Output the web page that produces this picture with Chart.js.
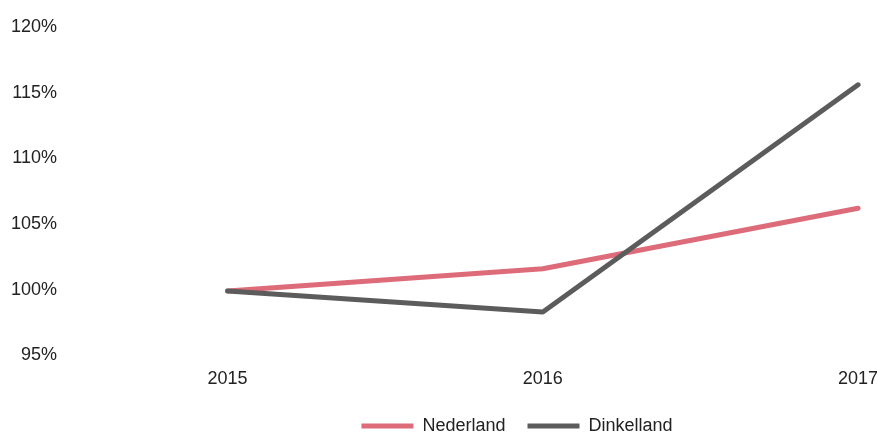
<!DOCTYPE html>
<html>
<head>
<meta charset="utf-8">
<script src="https://cdn.jsdelivr.net/npm/chart.js@4/dist/chart.umd.min.js"></script>
<style>
  html, body { margin: 0; padding: 0; background: #ffffff; }
  #wrap { width: 877px; height: 434px; position: relative; }
</style>
</head>
<body>
<div id="wrap"><canvas id="c"></canvas></div>
<script>
const years = [2015, 2016, 2017];
const nederland = [99.9, 101.6, 106.2];
const dinkelland = [99.9, 98.3, 115.6];
const yTicks = [95, 100, 105, 110, 115, 120];
const seriesNames = ['Nederland', 'Dinkelland'];

const FONT = "'Liberation Sans', Arial, sans-serif";
const pink = '#dd6b79';
const grey = '#5c5c5c';

Chart.defaults.font.family = FONT;
Chart.defaults.font.size = 18;
Chart.defaults.color = '#222222';

const legendShift = {
  id: 'legendShift',
  afterLayout(chart) {
    const l = chart.legend;
    if (l) { l.left += 75; l.right += 75; }
  }
};

new Chart(document.getElementById('c'), {
  type: 'line',
  plugins: [legendShift],
  data: {
    datasets: [
      {
        label: seriesNames[0],
        data: years.map((x, i) => ({ x, y: nederland[i] })),
        borderColor: pink,
        backgroundColor: pink,
        borderWidth: 5,
        borderCapStyle: 'round',
        borderJoinStyle: 'round',
        pointRadius: 0,
        tension: 0,
        order: 1
      },
      {
        label: seriesNames[1],
        data: years.map((x, i) => ({ x, y: dinkelland[i] })),
        borderColor: grey,
        backgroundColor: grey,
        borderWidth: 5,
        borderCapStyle: 'round',
        borderJoinStyle: 'round',
        pointRadius: 0,
        tension: 0,
        order: 0
      }
    ]
  },
  options: {
    responsive: true,
    maintainAspectRatio: false,
    animation: false,
    layout: { padding: { top: 27, left: 7, right: 0, bottom: -11 } },
    plugins: {
      tooltip: { enabled: false },
      legend: {
        position: 'bottom',
        labels: {
          boxWidth: 52,
          boxHeight: 5,
          padding: 22,
          font: { size: 18 },
          color: '#222222',
          sort: (a, b) => a.datasetIndex - b.datasetIndex,
          generateLabels(chart) {
            const items = Chart.defaults.plugins.legend.labels.generateLabels(chart);
            items.forEach(it => { it.lineWidth = 0; });
            return items;
          }
        }
      }
    },
    scales: {
      x: {
        type: 'linear',
        min: 2014.497,
        max: 2017.06,
        grid: { display: false },
        border: { display: false },
        afterBuildTicks(scale) { scale.ticks = years.map(v => ({ value: v })); },
        afterFit(scale) { scale.paddingLeft = 0; scale.paddingRight = 0; },
        ticks: {
          padding: 5,
          maxRotation: 0,
          callback: v => String(v)
        }
      },
      y: {
        min: 95,
        max: 120,
        grid: { display: false },
        border: { display: false },
        afterBuildTicks(scale) { scale.ticks = yTicks.map(v => ({ value: v })); },
        ticks: {
          padding: 4,
          callback: v => v + '%'
        }
      }
    }
  }
});
</script>
</body>
</html>
